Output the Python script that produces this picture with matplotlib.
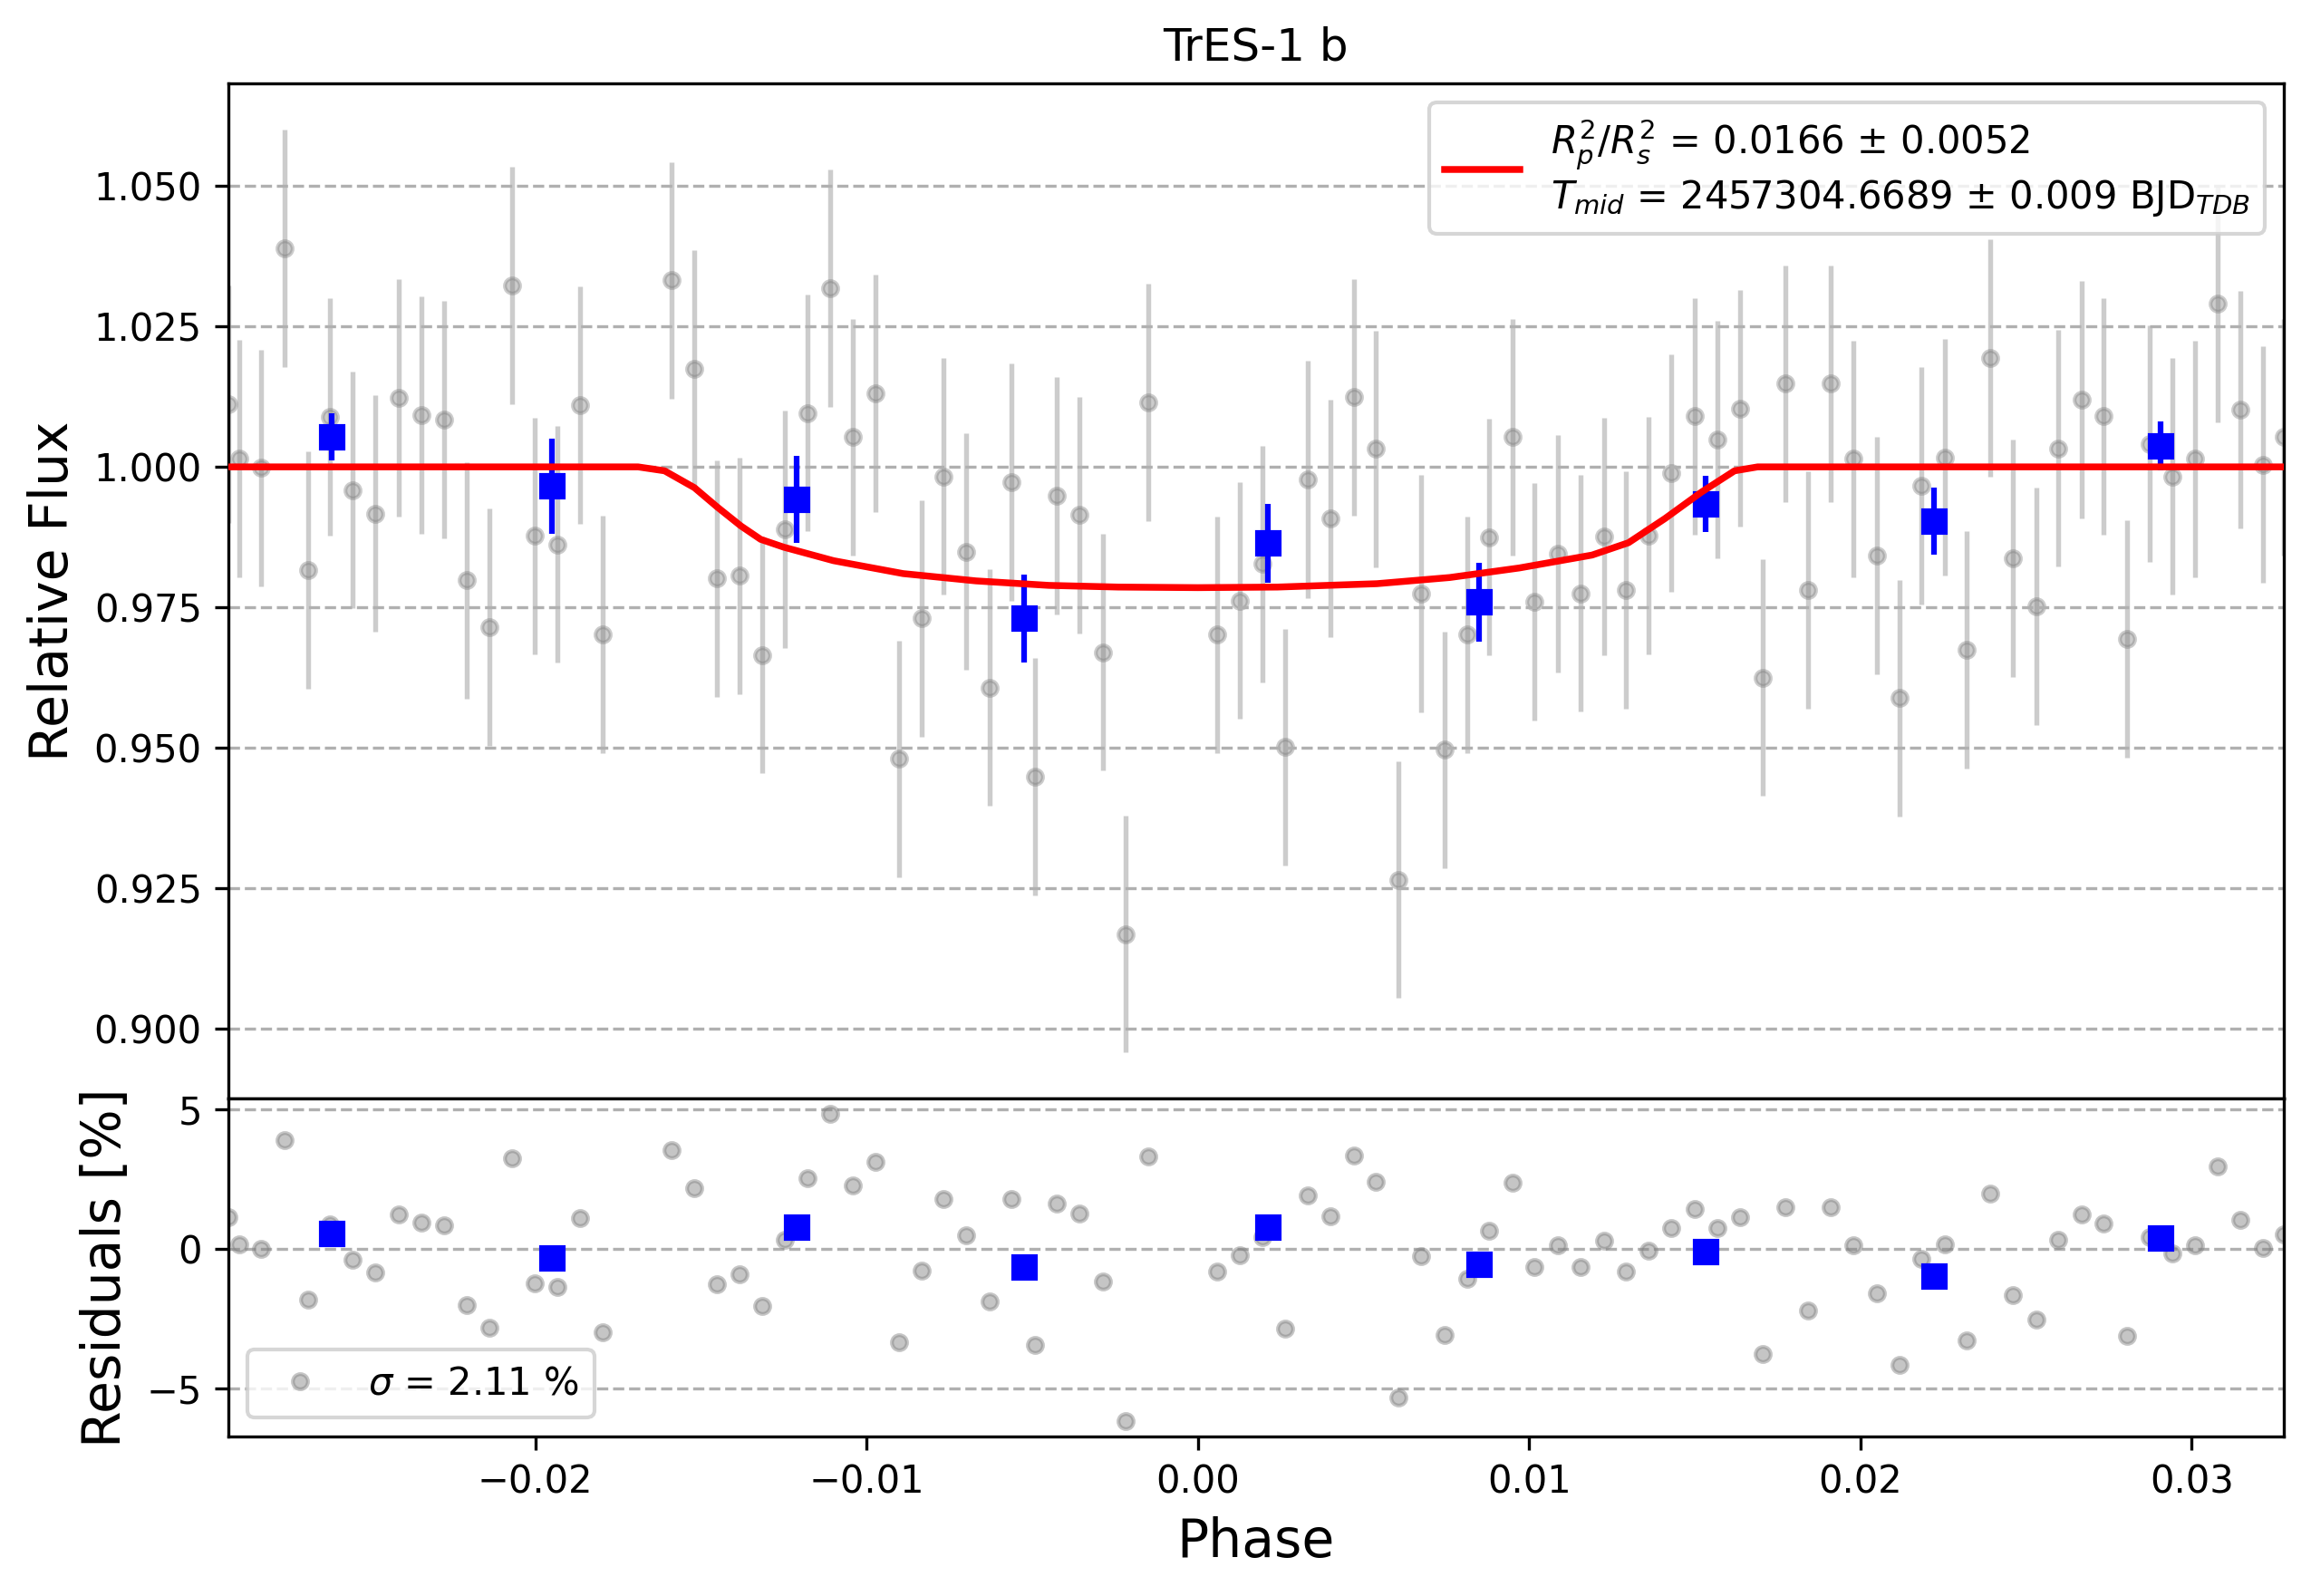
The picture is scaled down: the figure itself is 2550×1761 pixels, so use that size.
import numpy as np
import matplotlib
matplotlib.use("Agg")
import matplotlib.pyplot as plt

# ---------------------------------------------------------------- data
phase = [
    -0.02927, -0.02894, -0.02827, -0.02756, -0.02687, -0.02620, -0.02551, -0.02483, -0.02413,
    -0.02345, -0.02276, -0.02208, -0.02139, -0.02071, -0.02003, -0.01934, -0.01865, -0.01797,
    -0.01589, -0.01521, -0.01452, -0.01383, -0.01316,
    -0.01247, -0.01178, -0.01109, -0.01041, -0.00973, -0.00903, -0.00835, -0.00767, -0.00699,
    -0.00629, -0.00562, -0.00493, -0.00425, -0.00357, -0.00287, -0.00219, -0.00151,
    0.00057, 0.00126, 0.00194, 0.00262, 0.00331,
    0.00401, 0.00470, 0.00538, 0.00606, 0.00675, 0.00744, 0.00812, 0.00880, 0.00949, 0.01017,
    0.01086, 0.01156, 0.01225, 0.01293, 0.01361, 0.01430, 0.01499, 0.01567, 0.01636, 0.01704,
    0.01774, 0.01842, 0.01911, 0.01979,
    0.02049, 0.02117, 0.02185, 0.02254, 0.02322, 0.02391, 0.02459, 0.02530, 0.02598, 0.02667,
    0.02735, 0.02804, 0.02872, 0.02941, 0.03010, 0.03078, 0.03147, 0.03215, 0.03278,
]
flux = [
    1.0112, 1.0015, 0.9998, 1.0389, 0.9816, 1.0089, 0.9959, 0.9917, 1.0123,
    1.0092, 1.0084, 0.9798, 0.9715, 1.0323, 0.9877, 0.9862, 1.0110, 0.9702,
    1.0332, 1.0175, 0.9801, 0.9806, 0.9665,
    0.9889, 1.0096, 1.0318, 1.0053, 1.0131, 0.9480, 0.9730, 0.9983, 0.9849,
    0.9607, 0.9973, 0.9448, 0.9949, 0.9914, 0.9670, 0.9168, 1.0115,
    0.9701, 0.9762, 0.9827, 0.9501, 0.9978,
    0.9908, 1.0124, 1.0032, 0.9265, 0.9774, 0.9496, 0.9701, 0.9875, 1.0053, 0.9760,
    0.9845, 0.9775, 0.9876, 0.9781, 0.9878, 0.9989, 1.0090, 1.0049, 1.0104, 0.9625,
    1.0148, 0.9781, 1.0148, 1.0014,
    0.9842, 0.9588, 0.9966, 1.0017, 0.9674, 1.0194, 0.9837, 0.9752, 1.0033, 1.0120,
    1.0090, 0.9694, 1.0041, 0.9983, 1.0014, 1.0290, 1.0102, 1.0004, 1.0053,
]
flux_err = 0.0211
residual = [
    1.15, 0.16, 0.00, 3.91, -1.82, 0.89, -0.39, -0.84, 1.25,
    0.94, 0.85, -2.01, -2.82, 3.26, -1.24, -1.37, 1.11, -2.99,
    3.55, 2.18, -1.27, -0.91, -2.05,
    0.33, 2.55, 4.86, 2.28, 3.13, -3.36, -0.78, 1.79, 0.49,
    -1.89, 1.79, -3.45, 1.61, 1.27, -1.16, -6.18, 3.32,
    -0.80, -0.22, 0.41, -2.86, 1.93,
    1.17, 3.36, 2.41, -5.34, -0.25, -3.09, -1.07, 0.65, 2.38, -0.65,
    0.14, -0.65, 0.30, -0.80, -0.05, 0.76, 1.44, 0.76, 1.15, -3.77,
    1.50, -2.20, 1.50, 0.14,
    -1.60, -4.16, -0.35, 0.16, -3.28, 1.99, -1.66, -2.54, 0.33, 1.24,
    0.91, -3.13, 0.43, -0.16, 0.13, 2.96, 1.04, 0.03, 0.52,
]

# binned points
bin_phase = [-0.02616, -0.01951, -0.01212, -0.00525, 0.00211, 0.00848, 0.01533, 0.02221, 0.02906]
bin_flux = [1.0054, 0.9966, 0.9942, 0.9730, 0.9864, 0.9759, 0.9934, 0.9903, 1.0037]
bin_err = [0.0042, 0.0085, 0.0077, 0.0079, 0.0070, 0.0070, 0.0050, 0.0060, 0.0044]
bin_res = [0.55, -0.33, 0.78, -0.65, 0.78, -0.55, -0.10, -0.98, 0.39]

# transit model curve
model_phase = [-0.0293, -0.0169, -0.0161, -0.0152, -0.0145, -0.0138, -0.0132, -0.0125, -0.0110,
               -0.0089, -0.0067, -0.0045, -0.0024, 0.0000, 0.0024, 0.0054, 0.0076, 0.0097,
               0.0119, 0.0130, 0.0141, 0.0152, 0.0162, 0.0169, 0.0328]
model_flux = [1.0000, 1.0000, 0.9993, 0.9963, 0.9928, 0.9895, 0.9871, 0.9857, 0.9833,
              0.9810, 0.9797, 0.9789, 0.9786, 0.9785, 0.9786, 0.9792, 0.9803, 0.9820,
              0.9843, 0.9865, 0.9908, 0.9955, 0.9993, 1.0000, 1.0000]

target = "TrES-1 b"
fit_label = (r"$R^2_p/R^2_s$ = 0.0166 $\pm$ 0.0052" + "\n"
             + r"$T_{mid}$ = 2457304.6689 $\pm$ 0.009 BJD$_{TDB}$")
sigma_label = r"$\sigma$ = 2.11 %"

# ---------------------------------------------------------------- figure
fig, (ax_lc, ax_res) = plt.subplots(2, 1, figsize=(8.5, 5.87), dpi=300, sharex=True,
                                    gridspec_kw={"height_ratios": [3, 1], "hspace": 0})
fig.subplots_adjust(left=0.0988, right=0.9882, top=0.9478, bottom=0.1)

ax_lc.errorbar(phase, flux, yerr=flux_err, ls="none", marker="o", color="gray",
               ms=4, alpha=0.4, elinewidth=1.3, zorder=1)
ax_lc.plot(model_phase, model_flux, "r-", lw=1.8, zorder=100, label=fit_label)
ax_lc.errorbar(bin_phase, bin_flux, yerr=bin_err, fmt="s", color="b", ms=6,
               elinewidth=1.5, zorder=50)
ax_lc.set_title(target)
ax_lc.set_ylabel("Relative Flux", fontsize=14)
ax_lc.set_ylim(0.8876, 1.0683)
ax_lc.set_yticks([0.900, 0.925, 0.950, 0.975, 1.000, 1.025, 1.050])
ax_lc.grid(axis="y", ls="--", color="#b0b0b0")
ax_lc.tick_params(axis="x", bottom=False, labelbottom=False)
ax_lc.legend(loc="upper right")

ax_res.plot(phase, residual, "o", color="gray", ms=4, alpha=0.45, label=sigma_label)
ax_res.plot(bin_phase, bin_res, "s", color="b", ms=6, zorder=50)
ax_res.set_ylabel("Residuals [%]", fontsize=14)
ax_res.set_xlabel("Phase", fontsize=14)
ax_res.set_ylim(-6.73, 5.41)
ax_res.set_yticks([-5, 0, 5])
ax_res.grid(axis="y", ls="--", color="#b0b0b0")
ax_res.set_xlim(min(phase), max(phase))
ax_res.legend(loc="lower left")

fig.savefig("out.png", dpi=300)
